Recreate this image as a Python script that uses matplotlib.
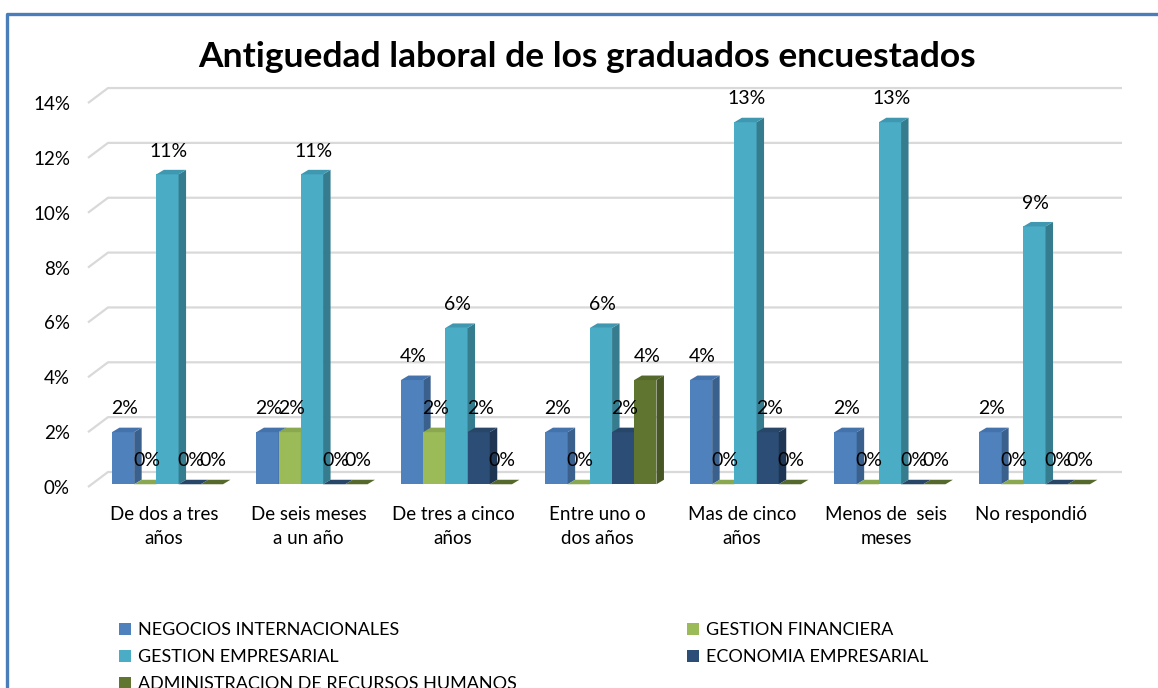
import numpy as np
import matplotlib
matplotlib.use('Agg')
import matplotlib.pyplot as plt
from matplotlib.collections import PolyCollection
from matplotlib.patches import Patch
from matplotlib.lines import Line2D

plt.rcParams['font.family'] = ['Lato', 'DejaVu Sans']

# data (percent of respondents)
categories = ['De dos a tres\naños', 'De seis meses\na un año', 'De tres a cinco\naños',
              'Entre uno o\ndos años', 'Mas de cinco\naños', 'Menos de  seis\nmeses',
              'No respondió']
series_names = ['NEGOCIOS INTERNACIONALES', 'GESTION FINANCIERA', 'GESTION EMPRESARIAL',
                'ECONOMIA EMPRESARIAL', 'ADMINISTRACION DE RECURSOS HUMANOS']
negocios = [1.9, 1.9, 3.8, 1.9, 3.8, 1.9, 1.9]
financiera = [0.0, 1.9, 1.9, 0.0, 0.0, 0.0, 0.0]
empresarial = [11.3, 11.3, 5.7, 5.7, 13.2, 13.2, 9.4]
economia = [0.0, 0.0, 1.9, 1.9, 1.9, 0.0, 0.0]
rrhh = [0.0, 0.0, 0.0, 3.8, 0.0, 0.0, 0.0]
yticks = [0, 2, 4, 6, 8, 10, 12, 14]

series = [negocios, financiera, empresarial, economia, rrhh]
front_cols = ['#4f81bd', '#9bbb59', '#4bacc6', '#2c4d75', '#607530']
side_cols = ['#3a608e', '#728a41', '#357c8f', '#1e3653', '#465624']
top_cols = ['#4473ab', '#8aa84f', '#3f98b0', '#284668', '#56692c']


def draw_bars(ax, x, vals, j, w, base, dx, dy):
    z = 2 + j
    ax.bar(x, vals, width=w, bottom=base, align='edge', color=front_cols[j],
           linewidth=0, zorder=z)
    sides, tops = [], []
    for x0, v in zip(x, vals):
        x1 = x0 + w
        y0, y1 = base, base + v
        sides.append([(x1, y0), (x1 + dx, y0 + dy), (x1 + dx, y1 + dy), (x1, y1)])
        tops.append([(x0, y1), (x0 + dx, y1 + dy), (x1 + dx, y1 + dy), (x1, y1)])
    ax.add_collection(PolyCollection(sides, facecolors=side_cols[j], linewidths=0,
                                     zorder=z + 0.5))
    ax.add_collection(PolyCollection(tops, facecolors=top_cols[j], linewidths=0,
                                     zorder=z + 0.5))
    # data labels
    for x0, v in zip(x, vals):
        ax.text(x0 + w / 2 + 0.01, base + v + 0.85, f'{round(v)}%', ha='center',
                va='center', fontsize=14, color='black', zorder=20)


def main():
    fig = plt.figure(figsize=(11.58, 6.88), dpi=100)
    ax = fig.add_axes([88 / 1158, 201 / 688, 1034 / 1158, 407 / 688])
    ax.set_xlim(-0.526, 6.63)
    ax.set_ylim(0, 14.84)
    for s in ax.spines.values():
        s.set_visible(False)

    # wall gridlines with the slanted floor edge
    gx, gy = 20 / 144.5, 15 / 27.43
    for v in yticks:
        ax.plot([-0.526, -0.526 + gx, 6.63], [v, v + gy, v + gy], color='#d9d9d9',
                lw=1.6, zorder=1, clip_on=False, solid_capstyle='butt')

    w = 22.2 / 144.5
    dx, dy = 7.5 / 144.5, 4.5 / 27.43
    base = 0.1
    idx = np.arange(len(categories))
    for j, vals in enumerate(series):
        x = idx - 2.5 * w + j * w + 0.024
        draw_bars(ax, x, vals, j, w, base, dx, dy)

    ax.set_yticks(yticks, [f'{t}%' for t in yticks], fontsize=13.5)
    ax.set_xticks(idx, categories, fontsize=13.5, linespacing=1.5)
    ax.tick_params(axis='y', length=0, pad=13)
    ax.tick_params(axis='x', length=0, pad=14)

    fig.text(587 / 1158, 1 - 57 / 688, 'Antiguedad laboral de los graduados encuestados',
             ha='center', va='center', fontsize=25.5, fontweight='bold')

    # legend in two columns
    h = [Patch(facecolor=c, edgecolor='none') for c in front_cols]
    kw = dict(loc='upper left', frameon=False, fontsize=13, handlelength=0.65,
              handleheight=0.65, handletextpad=0.4, labelspacing=0.62,
              borderpad=0, borderaxespad=0)
    fig.legend([h[0], h[2], h[4]], [series_names[0], series_names[2], series_names[4]],
               bbox_to_anchor=(119 / 1158, 1 - 622 / 688), **kw)
    fig.legend([h[1], h[3]], [series_names[1], series_names[3]],
               bbox_to_anchor=(687 / 1158, 1 - 622 / 688), **kw)

    # chart border (left and top)
    fig.add_artist(Line2D([7.5 / 1158, 7.5 / 1158, 1], [0, 1 - 13.5 / 688, 1 - 13.5 / 688],
                          transform=fig.transFigure, color='#4a7ebb', lw=2.4))

    fig.savefig('out.png', dpi=100)


if __name__ == '__main__':
    main()
